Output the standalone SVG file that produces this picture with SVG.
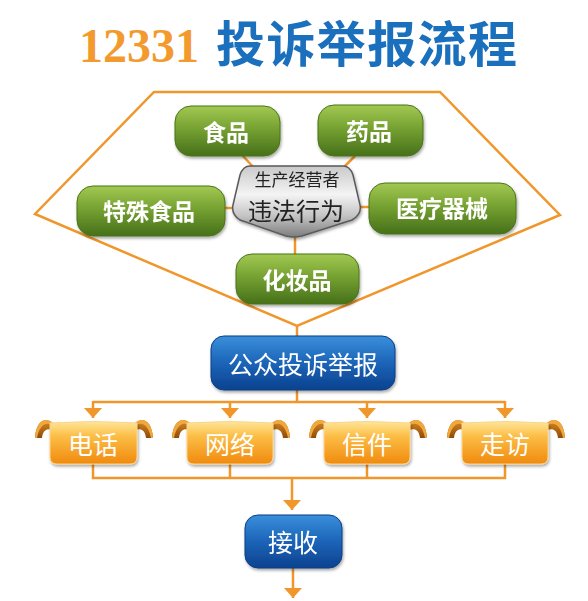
<svg xmlns="http://www.w3.org/2000/svg" width="588" height="601" viewBox="0 0 588 601">
<defs>
<linearGradient id="gGreen" x1="0" y1="0" x2="0" y2="1">
<stop offset="0" stop-color="#a2c852"/>
<stop offset="0.45" stop-color="#76a232"/>
<stop offset="1" stop-color="#46701a"/>
</linearGradient>
<linearGradient id="gGray" x1="0" y1="0" x2="0" y2="1">
<stop offset="0" stop-color="#c9c9c9"/>
<stop offset="0.4" stop-color="#f4f4f4"/>
<stop offset="0.7" stop-color="#c4c4c4"/>
<stop offset="1" stop-color="#7d7d7d"/>
</linearGradient>
<linearGradient id="gBlue" x1="0" y1="0" x2="0" y2="1">
<stop offset="0" stop-color="#3a8fdb"/>
<stop offset="0.5" stop-color="#1c64b8"/>
<stop offset="1" stop-color="#0b428f"/>
</linearGradient>
<linearGradient id="gOrange" x1="0" y1="0" x2="0" y2="1">
<stop offset="0" stop-color="#ffe69a"/>
<stop offset="0.35" stop-color="#fcbd45"/>
<stop offset="1" stop-color="#f08a0e"/>
</linearGradient>
<linearGradient id="gCurl" x1="0" y1="0" x2="0" y2="1">
<stop offset="0" stop-color="#d98a22"/>
<stop offset="1" stop-color="#8e4b08"/>
</linearGradient>
<filter id="sh" x="-10%" y="-10%" width="130%" height="140%">
<feDropShadow dx="1" dy="2" stdDeviation="1.5" flood-color="#000" flood-opacity="0.35"/>
</filter>
<marker id="arr" viewBox="0 0 10 18" refX="10" refY="9" markerWidth="10" markerHeight="18" markerUnits="userSpaceOnUse" orient="auto">
<path d="M0,0 L10,9 L0,18 Z" fill="#f0962a"/>
</marker>
<g id="curlL">
<path d="M2,1 C-6,-6 -15,-1 -16,16 L-9,16 C-8,8 -4,6 2,8 Z" fill="url(#gCurl)"/>
<path d="M2,1 C-6,-6 -15,-1 -16,16 L-14,16 C-12,4 -5,-2 2,4 Z" fill="#f0a83e"/>
</g>
</defs>
<style>
.ln{stroke:#f0962a;stroke-width:2.5;fill:none}
.gbox{fill:url(#gGreen);stroke:#4b7419;stroke-width:1}
.gt{font-family:"Noto Sans CJK SC","Noto Sans",sans-serif;font-weight:bold;font-size:23px;fill:#fff;text-anchor:middle;dominant-baseline:central}
.bbox{fill:url(#gBlue);stroke:#0c3f85;stroke-width:1}
.wt{font-family:"Noto Sans CJK SC","Noto Sans",sans-serif;font-size:25px;fill:#fff;text-anchor:middle;dominant-baseline:central}
.obox{fill:url(#gOrange);stroke:#fbd58a;stroke-width:1}
</style>
<rect width="588" height="601" fill="#fff"/>
<g id="title">
<text x="79" y="62" font-family="Liberation Serif,serif" font-weight="bold" font-size="48" fill="#f39a2e">12331</text>
<text x="216" y="62" font-family="Noto Sans CJK SC,sans-serif" font-weight="bold" font-size="49" fill="#1a70bc" textLength="301">投诉举报流程</text>
</g>
<g id="connectors">
<polygon class="ln" points="154,92 440,92 560,215 297,326 35,214" stroke-width="3" stroke-linejoin="miter"/>
<line class="ln" x1="242" y1="155" x2="256" y2="170"/>
<line class="ln" x1="355" y1="156" x2="341" y2="170"/>
<line class="ln" x1="224" y1="208" x2="234" y2="208"/>
<line class="ln" x1="358" y1="207" x2="369" y2="207"/>
<line class="ln" x1="295" y1="236" x2="295" y2="254"/>
<line class="ln" x1="297" y1="326" x2="297" y2="337"/>
<line class="ln" x1="297" y1="390" x2="297" y2="402"/>
<line class="ln" x1="93" y1="402" x2="505" y2="402"/>
<line class="ln" x1="93" y1="401" x2="93" y2="418" marker-end="url(#arr)"/>
<line class="ln" x1="230" y1="402" x2="230" y2="418" marker-end="url(#arr)"/>
<line class="ln" x1="367" y1="402" x2="367" y2="418" marker-end="url(#arr)"/>
<line class="ln" x1="505" y1="401" x2="505" y2="418" marker-end="url(#arr)"/>
<polyline class="ln" points="93,464 93,478 505,478 505,464"/>
<line class="ln" x1="230" y1="464" x2="230" y2="478"/>
<line class="ln" x1="367" y1="464" x2="367" y2="478"/>
<line class="ln" x1="292" y1="478" x2="292" y2="510" marker-end="url(#arr)"/>
<line class="ln" x1="293" y1="568" x2="293" y2="598" marker-end="url(#arr)"/>
</g>
<g id="node-shipin" filter="url(#sh)">
<rect class="gbox" x="175" y="106" width="105" height="50" rx="16"/>
<text class="gt" x="226" y="131">食品</text>
</g>
<g id="node-yaopin" filter="url(#sh)">
<rect class="gbox" x="318" y="105" width="105" height="51" rx="16"/>
<text class="gt" x="369" y="130">药品</text>
</g>
<g id="node-teshu" filter="url(#sh)">
<rect class="gbox" x="77" y="186" width="148" height="50" rx="16"/>
<text class="gt" x="149" y="210">特殊食品</text>
</g>
<g id="node-yiliao" filter="url(#sh)">
<rect class="gbox" x="369" y="183" width="147" height="51" rx="16"/>
<text class="gt" x="442" y="207">医疗器械</text>
</g>
<g id="node-huazhuang" filter="url(#sh)">
<rect class="gbox" x="236" y="254" width="123" height="50" rx="16"/>
<text class="gt" x="297" y="279">化妆品</text>
</g>
<g id="node-center" filter="url(#sh)">
<path d="M250,166 L343,166 Q350,166 353,175 L360,205 Q362,214 352,220 L302,236 Q294,238 286,236 L240,220 Q231,214 233,205 L240,175 Q243,166 250,166 Z" fill="url(#gGray)" stroke="#5a5a5a" stroke-width="1.5"/>
<text x="297" y="178" font-family="Noto Sans CJK SC,sans-serif" font-size="17" fill="#222" text-anchor="middle" dominant-baseline="central">生产经营者</text>
<text x="296" y="209" font-family="Noto Sans CJK SC,sans-serif" font-size="24" fill="#222" text-anchor="middle" dominant-baseline="central">违法行为</text>
</g>
<g id="node-gongzhong" filter="url(#sh)">
<rect class="bbox" x="211" y="336" width="184" height="54" rx="13"/>
<text class="wt" x="303" y="363" font-size="26">公众投诉举报</text>
</g>
<g id="node-dianhua">
<use href="#curlL" x="51" y="422"/>
<use href="#curlL" transform="translate(137,422) scale(-1,1)"/>
<path class="obox" d="M50,423 Q93,420 137,423 L137,457 Q137,464 130,464 L57,464 Q50,464 50,457 Z" filter="url(#sh)"/>
<text class="wt" x="93" y="443">电话</text>
</g>
<g id="node-wangluo">
<use href="#curlL" x="188" y="422"/>
<use href="#curlL" transform="translate(274,422) scale(-1,1)"/>
<path class="obox" d="M187,423 Q230,420 273,423 L273,457 Q273,464 266,464 L194,464 Q187,464 187,457 Z" filter="url(#sh)"/>
<text class="wt" x="230" y="443">网络</text>
</g>
<g id="node-xinjian">
<use href="#curlL" x="325" y="422"/>
<use href="#curlL" transform="translate(411,422) scale(-1,1)"/>
<path class="obox" d="M324,423 Q367,420 410,423 L410,457 Q410,464 403,464 L331,464 Q324,464 324,457 Z" filter="url(#sh)"/>
<text class="wt" x="367" y="443">信件</text>
</g>
<g id="node-zoufang">
<use href="#curlL" x="463" y="422"/>
<use href="#curlL" transform="translate(549,422) scale(-1,1)"/>
<path class="obox" d="M462,423 Q505,420 548,423 L548,457 Q548,464 541,464 L469,464 Q462,464 462,457 Z" filter="url(#sh)"/>
<text class="wt" x="505" y="443">走访</text>
</g>
<g id="node-jieshou" filter="url(#sh)">
<rect class="bbox" x="245" y="515" width="97" height="53" rx="13"/>
<text class="wt" x="293" y="541" font-size="22">接收</text>
</g>
</svg>
